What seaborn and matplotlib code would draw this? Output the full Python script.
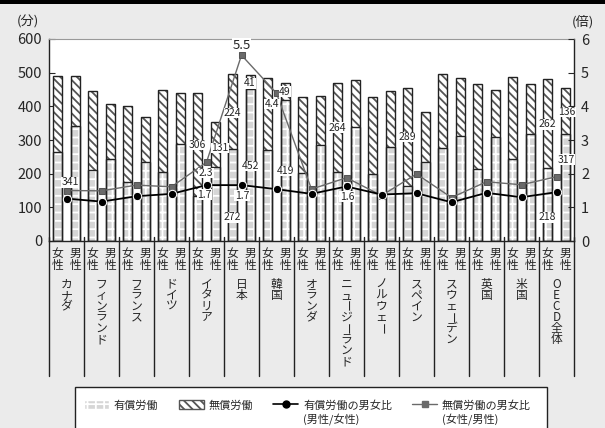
import numpy as np
import pandas as pd
import seaborn as sns
import matplotlib.pyplot as plt
from matplotlib.patches import Patch, Rectangle
from matplotlib.lines import Line2D
import matplotlib.transforms as mtransforms

countries = ["カナダ", "フィンランド", "フランス", "ドイツ", "イタリア", "日本", "韓国", "オランダ",
             "ニュージーランド", "ノルウェー", "スペイン", "スウェーデン", "英国", "米国", "OECD全体"]
paid_f = [265, 210, 174, 206, 133, 272, 269, 201, 204, 200, 164, 275, 214, 245, 218]
unpaid_f = [226, 236, 226, 242, 306, 224, 216, 226, 264, 229, 289, 221, 251, 243, 262]
paid_m = [341, 245, 234, 287, 221, 452, 419, 284, 338, 278, 236, 313, 308, 318, 317]
unpaid_m = [148, 161, 135, 152, 131, 41, 49, 147, 140, 168, 146, 172, 140, 147, 136]
paid_ratio = [1.26, 1.17, 1.33, 1.40, 1.66, 1.66, 1.54, 1.40, 1.62, 1.38, 1.42, 1.15, 1.43, 1.30, 1.45]
unpaid_ratio = [1.50, 1.49, 1.66, 1.61, 2.34, 5.52, 4.39, 1.54, 1.88, 1.35, 1.99, 1.29, 1.76, 1.67, 1.91]
sex_labels = ["女性", "男性"]

# value labels: text, x position (bar slots), y (minutes)
labels = [("341", 0.7, 175), ("306", 8.0, 285), ("2.3", 8.47, 202), ("1.7", 8.4, 137),
          ("131", 9.27, 276), ("224", 10.0, 380), ("5.5", 10.5, 582), ("41", 10.99, 469),
          ("452", 11.04, 223), ("1.7", 10.53, 134), ("272", 10.0, 71), ("4.4", 12.24, 407),
          ("49", 12.99, 443), ("419", 12.99, 208), ("264", 16.0, 336), ("1.6", 16.53, 131),
          ("289", 20.0, 309), ("262", 28.0, 347), ("136", 29.1, 383), ("317", 29.04, 241),
          ("218", 28.0, 71)]

sns.set_style("white")
plt.rcParams["font.family"] = ["Noto Sans CJK JP", "DejaVu Sans"]
plt.rcParams["hatch.linewidth"] = 1.3

rows = []
for i, c in enumerate(countries):
    rows.append({"pos": 2 * i, "paid": paid_f[i], "total": paid_f[i] + unpaid_f[i]})
    rows.append({"pos": 2 * i + 1, "paid": paid_m[i], "total": paid_m[i] + unpaid_m[i]})
df = pd.DataFrame(rows)

fig = plt.figure(figsize=(6.05, 4.28), dpi=100)
fig.patch.set_facecolor("#ebebeb")
ax = fig.add_axes([49 / 605, 1 - 241 / 428, 525 / 605, 202 / 428])
ax.set_facecolor("white")

sns.barplot(data=df, x="pos", y="total", color="white", width=0.52, ax=ax)
n_tot = len(ax.patches)
sns.barplot(data=df, x="pos", y="paid", color="white", width=0.52, ax=ax)
for k, p in enumerate(ax.patches):
    if k < n_tot:
        p.set_hatch("\\\\\\\\")
        p.set_edgecolor("#555555")
    else:
        p.set_facecolor("#d6d6d6")
        p.set_hatch("++")
        p.set_edgecolor("white")
    p.set_linewidth(0)
    ax.add_patch(Rectangle(p.get_xy(), p.get_width(), p.get_height(), fill=False,
                           edgecolor="#222222", linewidth=1.0, zorder=3))

ax.set_xlim(-0.5, 29.5)
ax.set_ylim(0, 600)
ax.set_yticks(range(0, 601, 100))
ax.set_xticks(range(30))
ax.set_xticklabels(["\n".join(sex_labels[k % 2]) for k in range(30)], fontsize=8.5, linespacing=0.95)
ax.tick_params(axis="x", length=0, pad=4)
ax.tick_params(axis="y", direction="in", length=4, labelsize=10.5, pad=5)
ax.set_xlabel("")
ax.set_ylabel("")
for s in ["left", "right", "bottom"]:
    ax.spines[s].set_color("#222222")
    ax.spines[s].set_linewidth(1.0)
ax.spines["top"].set_color("#999999")
ax.spines["top"].set_linewidth(0.8)

ax2 = ax.twinx()
centers = [2 * i + 0.5 for i in range(len(countries))]
sns.lineplot(x=centers, y=unpaid_ratio, color="#6a6a6a", marker="s", markersize=5,
             markeredgecolor="#555555", linewidth=1.0, ax=ax2)
sns.lineplot(x=centers, y=paid_ratio, color="black", marker="o", markersize=6,
             linewidth=1.3, ax=ax2)
ax2.set_ylim(0, 6)
ax2.set_yticks(range(7))
ax2.tick_params(axis="y", direction="in", length=4, labelsize=10.5, pad=5)
ax2.set_xlim(-0.5, 29.5)
for s in ax2.spines.values():
    s.set_visible(False)

for txt, x, y in labels:
    ax2.text(x, y / 100, txt, fontsize=9.5 if txt == "5.5" else 7.5, ha="center", va="center",
             zorder=5, bbox=dict(facecolor="white", edgecolor="none", pad=0.3))

# separators and vertical country names
trans = mtransforms.blended_transform_factory(ax.transData, ax.transAxes)
for b in np.arange(-0.5, 30, 2):
    ax.add_line(Line2D([b, b], [0.02, -0.668], transform=trans, color="#222222",
                       linewidth=1.0, clip_on=False))
for i, c in enumerate(countries):
    for j, ch in enumerate(c):
        ax.annotate(ch, xy=(2 * i + 0.5, 0), xycoords=trans,
                    xytext=(0, -31 - j * 8), textcoords="offset points",
                    ha="center", va="center", fontsize=8.5,
                    rotation=-90 if ch == "ー" else 0)

fig.text(28 / 605, 1 - 22 / 428, "(分)", fontsize=9.5, ha="center", va="center")
fig.text(583 / 605, 1 - 22 / 428, "(倍)", fontsize=9.5, ha="center", va="center")
fig.add_artist(Rectangle((0, 1 - 4 / 428), 1, 4 / 428, transform=fig.transFigure,
                         facecolor="black", edgecolor="none"))

# legend: frame box, first lines via fig.legend, second lines below
fig.add_artist(Rectangle((75 / 605, -0.02), 472 / 605, 0.02 + 1 - 387 / 428,
                         transform=fig.transFigure, facecolor="white",
                         edgecolor="#222222", linewidth=1.0))
handles = [Patch(facecolor="#d6d6d6", edgecolor="white", hatch="++"),
           Patch(facecolor="white", edgecolor="#555555", hatch="\\\\\\\\"),
           Line2D([], [], color="black", marker="o", markersize=5, linewidth=1.2),
           Line2D([], [], color="#6a6a6a", marker="s", markersize=4, linewidth=1.0)]
names = ["有償労働", "無償労働", "有償労働の男女比", "無償労働の男女比"]
sub_names = [None, None, "(男性/女性)", "(女性/男性)"]
leg = fig.legend(handles, names, loc="upper left", bbox_to_anchor=(84 / 605, 1 - 400 / 428),
                 ncol=4, fontsize=8, frameon=False, handlelength=2.25, handleheight=0.9,
                 columnspacing=1.8, handletextpad=0.45, borderpad=0, borderaxespad=0)
fig.canvas.draw()
renderer = fig.canvas.get_renderer()
for t, sub in zip(leg.get_texts(), sub_names):
    if sub is None:
        continue
    bb = t.get_window_extent(renderer)
    fig.text(bb.x0 / 605, ((bb.y0 + bb.y1) / 2 - 15) / 428, sub, fontsize=8,
             ha="left", va="center")

fig.savefig("out.png", dpi=100, facecolor=fig.get_facecolor())
